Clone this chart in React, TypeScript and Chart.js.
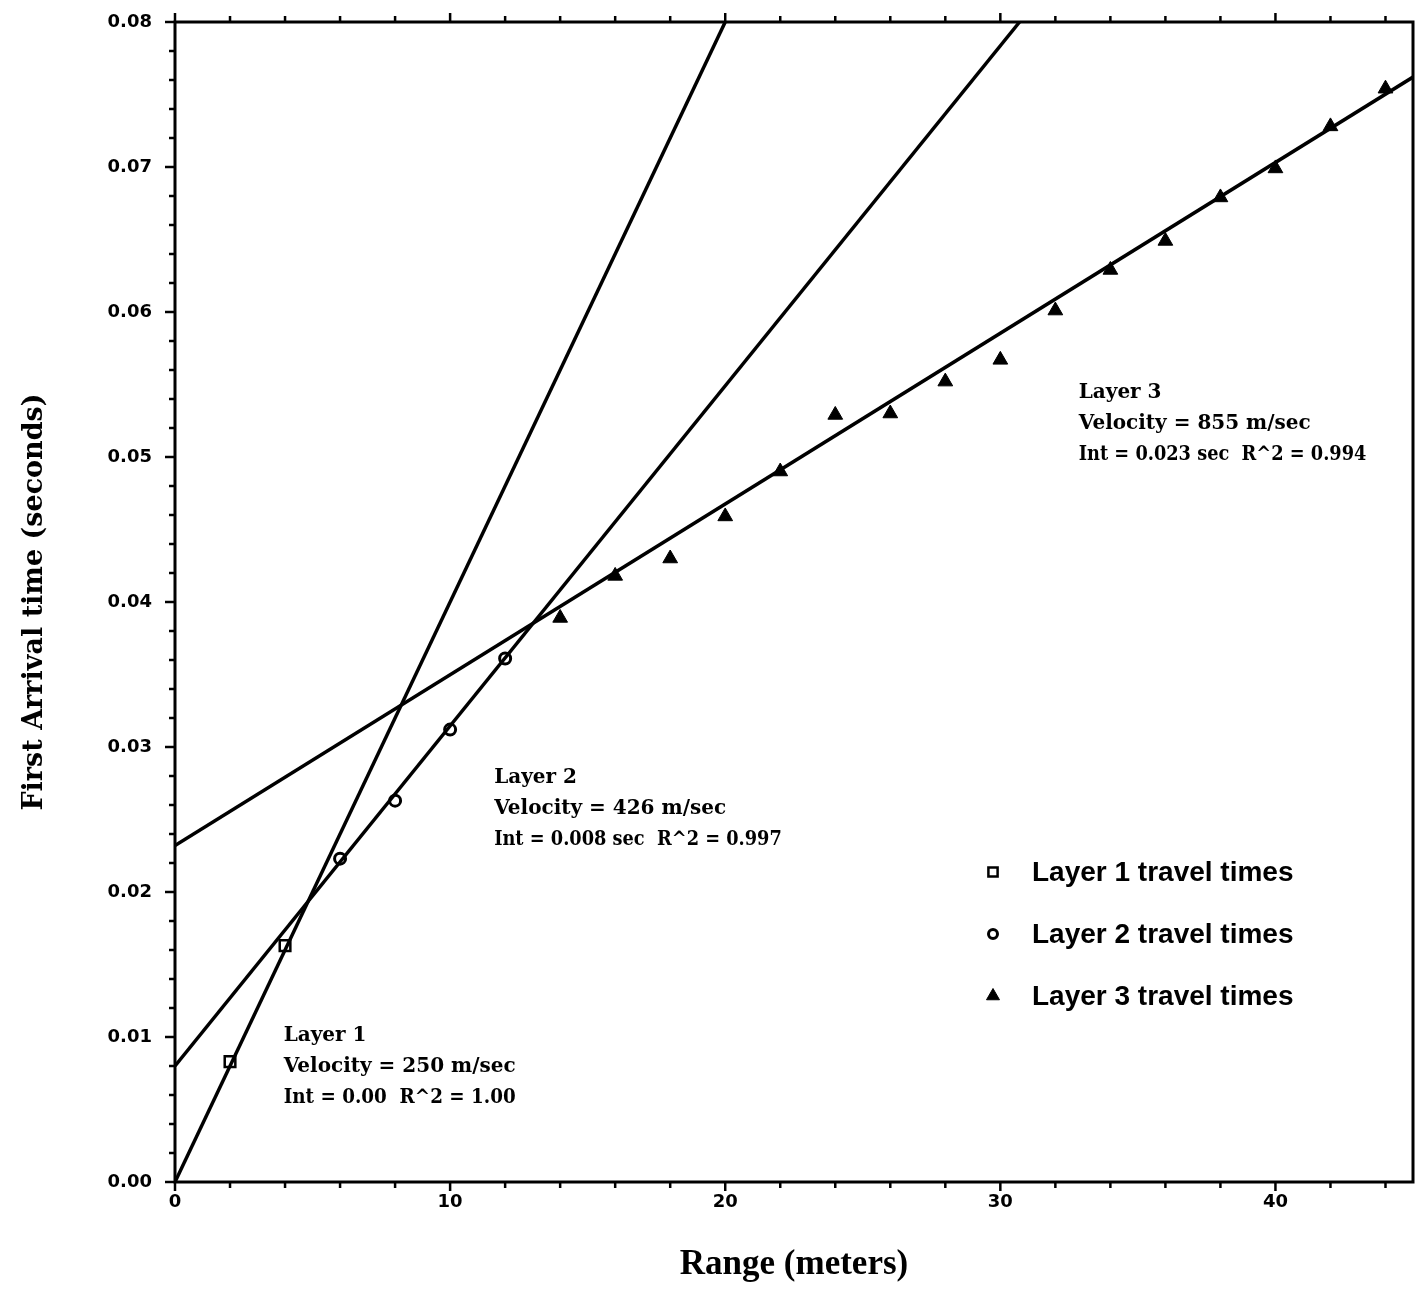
import React, { useEffect, useRef } from 'react';
import { Chart, registerables } from 'chart.js';
import { drawPoint } from 'chart.js/helpers';

Chart.register(...registerables);

// ---- data ----
const layer1Range = [2, 4];
const layer1Time = [0.0083, 0.0163];

const layer2Range = [6, 8, 10, 12];
const layer2Time = [0.0223, 0.0263, 0.0312, 0.0361];

const layer3Range = [14, 16, 18, 20, 22, 24, 26, 28, 30, 32, 34, 36, 38, 40, 42, 44];
const layer3Time = [
  0.0389, 0.0418, 0.0430, 0.0459, 0.0490, 0.0529, 0.0530, 0.0552,
  0.0567, 0.0601, 0.0629, 0.0649, 0.0679, 0.0699, 0.0728, 0.0754,
];

// regression lines (end points)
const fit1Range = [0, 20];
const fit1Time = [0.0, 0.08];
const fit2Range = [0, 30.7];
const fit2Time = [0.008, 0.08];
const fit3Range = [0, 45];
const fit3Time = [0.0232, 0.0762];

const seriesLabels = ['Layer 1 travel times', 'Layer 2 travel times', 'Layer 3 travel times'];

const annotationTexts = [
  ['Layer 1', 'Velocity = 250 m/sec', 'Int = 0.00  R^2 = 1.00'],
  ['Layer 2', 'Velocity = 426 m/sec', 'Int = 0.008 sec  R^2 = 0.997'],
  ['Layer 3', 'Velocity = 855 m/sec', 'Int = 0.023 sec  R^2 = 0.994'],
];
// anchor of each annotation block (data coordinates of first line, left edge)
const annotationAnchorX = [3.95, 11.6, 32.85];
const annotationAnchorY = [0.0101, 0.0279, 0.0544];
// width of the last line relative to the "Velocity" line (condensed in the original)
const annotationLastLineRatio = [1.0, 1.24, 1.24];

const xMin = 0;
const xMax = 45;
const yMin = 0;
const yMax = 0.08;

const toPoints = (xs: number[], ys: number[]) => xs.map((v, i) => ({ x: v, y: ys[i] }));

const markerStyles = [
  { pointStyle: 'rect', radius: 7.5, borderWidth: 2.5, fill: '#ffffff' },
  { pointStyle: 'circle', radius: 5.5, borderWidth: 3, fill: '#ffffff' },
  { pointStyle: 'triangle', radius: 8.5, borderWidth: 1, fill: '#000000' },
];

const extrasPlugin = {
  id: 'extras',
  afterDatasetsDraw(chart: any) {
    const { ctx, chartArea: a, scales } = chart;
    const x = scales.x;
    const y = scales.y;
    ctx.save();
    ctx.strokeStyle = '#000';
    ctx.fillStyle = '#000';
    // frame
    ctx.lineWidth = 3;
    ctx.strokeRect(a.left, a.top, a.right - a.left, a.bottom - a.top);
    // tick marks
    const seg = (x1: number, y1: number, x2: number, y2: number) => {
      ctx.beginPath();
      ctx.moveTo(x1, y1);
      ctx.lineTo(x2, y2);
      ctx.stroke();
    };
    ctx.lineWidth = 2.5;
    x.ticks.forEach((t: any) => {
      const px = x.getPixelForValue(t.value);
      const major = Math.round(t.value) % 10 === 0;
      const len = major ? 9 : 6;
      seg(px, a.bottom, px, a.bottom + len);
      seg(px, a.top, px, a.top - len);
    });
    y.ticks.forEach((t: any) => {
      const py = y.getPixelForValue(t.value);
      const major = Math.round(t.value * 1000) % 10 === 0;
      const len = major ? 10 : 6;
      seg(a.left - len, py, a.left, py);
    });

    // annotation blocks
    ctx.font = 'bold 20px "DejaVu Serif"';
    ctx.textAlign = 'left';
    ctx.textBaseline = 'middle';
    annotationTexts.forEach((lines, i) => {
      const px = x.getPixelForValue(annotationAnchorX[i]);
      const py = y.getPixelForValue(annotationAnchorY[i]);
      const refW = ctx.measureText(lines[1]).width;
      lines.forEach((line, j) => {
        if (j === 2) {
          ctx.fillText(line, px, py + j * 31, refW * annotationLastLineRatio[i]);
        } else {
          ctx.fillText(line, px, py + j * 31);
        }
      });
    });

    // legend
    const legX = a.left + 818;
    const legTop = a.top + 850;
    ctx.font = 'bold 28px "Liberation Sans"';
    seriesLabels.forEach((lab, i) => {
      const cy = legTop + i * 62;
      const m = markerStyles[i];
      ctx.fillStyle = m.fill;
      ctx.strokeStyle = '#000';
      ctx.lineWidth = m.borderWidth;
      drawPoint(ctx, { pointStyle: m.pointStyle as any, radius: m.radius - 1, borderWidth: m.borderWidth, rotation: 0 }, legX, cy);
      ctx.fillStyle = '#000';
      ctx.fillText(lab, legX + 39, cy + 1);
    });
    ctx.restore();
  },
};

export default function App() {
  const canvasRef = useRef<HTMLCanvasElement | null>(null);

  useEffect(() => {
    if (!canvasRef.current) return;
    const lineDs = (xs: number[], ys: number[], label: string) => ({
      label,
      data: toPoints(xs, ys),
      showLine: true,
      borderColor: '#000',
      borderWidth: 3.5,
      pointRadius: 0,
      pointHoverRadius: 0,
      fill: false,
    });
    const pointDs = (xs: number[], ys: number[], i: number) => ({
      label: seriesLabels[i],
      data: toPoints(xs, ys),
      showLine: false,
      pointStyle: markerStyles[i].pointStyle,
      pointRadius: markerStyles[i].radius,
      pointBorderWidth: markerStyles[i].borderWidth,
      pointBackgroundColor: markerStyles[i].fill,
      pointBorderColor: '#000',
      backgroundColor: markerStyles[i].fill,
      borderColor: '#000',
    });

    const chart = new Chart(canvasRef.current, {
      type: 'scatter',
      data: {
        datasets: [
          lineDs(fit1Range, fit1Time, 'Layer 1 fit'),
          lineDs(fit2Range, fit2Time, 'Layer 2 fit'),
          lineDs(fit3Range, fit3Time, 'Layer 3 fit'),
          pointDs(layer1Range, layer1Time, 0),
          pointDs(layer2Range, layer2Time, 1),
          pointDs(layer3Range, layer3Time, 2),
        ] as any,
      },
      options: {
        animation: false,
        responsive: true,
        maintainAspectRatio: false,
        layout: { autoPadding: false, padding: { top: 22, right: 3, left: 0, bottom: 0 } },
        plugins: {
          legend: { display: false },
          tooltip: { enabled: false },
        },
        scales: {
          x: {
            type: 'linear',
            position: 'bottom',
            min: xMin,
            max: xMax,
            grid: { display: false, drawTicks: false },
            border: { display: false },
            ticks: {
              stepSize: 2,
              autoSkip: false,
              includeBounds: false,
              maxRotation: 0,
              padding: 10,
              color: '#000',
              font: { family: '"DejaVu Sans"', weight: 'bold', size: 18 },
              callback: (v: any) => (Math.round(v) % 10 === 0 ? String(Math.round(v)) : ''),
            },
            title: {
              display: true,
              text: 'Range (meters)',
              color: '#000',
              font: { family: '"Liberation Serif"', weight: 'bold', size: 35 },
              padding: { top: 0, bottom: 3 },
            },
            afterFit: (s: any) => {
              s.height = 107;
              s.paddingLeft = 0;
              s.paddingRight = 0;
            },
          },
          y: {
            type: 'linear',
            min: yMin,
            max: yMax,
            grid: { display: false, drawTicks: false },
            border: { display: false },
            ticks: {
              stepSize: 0.002,
              autoSkip: false,
              includeBounds: false,
              padding: 23,
              color: '#000',
              font: { family: '"DejaVu Sans"', weight: 'bold', size: 18 },
              callback: (v: any) => {
                const k = Math.round(v * 1000);
                return k % 10 === 0 ? (k / 1000).toFixed(2) : '';
              },
            },
            title: {
              display: true,
              text: 'First Arrival time (seconds)',
              color: '#000',
              font: { family: '"DejaVu Serif"', weight: 'bold', size: 27 },
              padding: { top: 19, bottom: 0 },
            },
            afterFit: (s: any) => {
              s.width = 175;
              s.paddingTop = 0;
              s.paddingBottom = 0;
            },
          },
        },
      } as any,
      plugins: [extrasPlugin],
    });
    return () => chart.destroy();
  }, []);

  return (
    <div style={{ position: 'fixed', left: 0, top: 0, width: 1416, height: 1289, background: '#fff' }}>
      <canvas ref={canvasRef} />
    </div>
  );
}
